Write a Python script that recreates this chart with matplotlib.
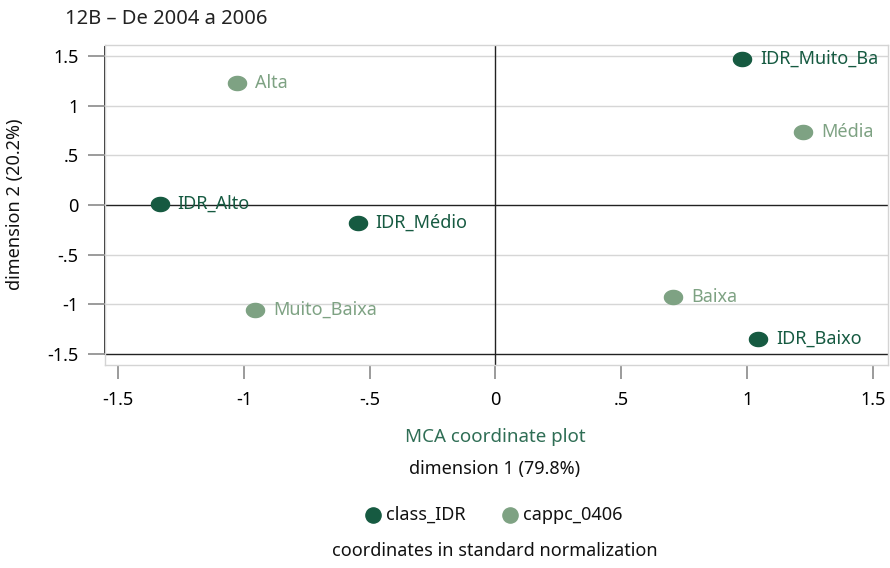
import numpy as np
import matplotlib
matplotlib.use("Agg")
import matplotlib.pyplot as plt
from matplotlib.path import Path

plt.rcParams['font.family'] = ['Noto Sans', 'DejaVu Sans']

# MCA coordinates
idr_labels = ["IDR_Muito_Ba", "IDR_Alto", "IDR_Médio", "IDR_Baixo"]
idr_x = [0.98, -1.335, -0.548, 1.045]
idr_y = [1.475, 0.01, -0.18, -1.354]

cap_labels = ["Alta", "Média", "Muito_Baixa", "Baixa"]
cap_x = [-1.029, 1.224, -0.957, 0.707]
cap_y = [1.232, 0.737, -1.06, -0.93]

ticks = [-1.5, -1, -0.5, 0, 0.5, 1, 1.5]
tick_labels = ["-1.5", "-1", "-.5", "0", ".5", "1", "1.5"]

dark = "#165a41"
light = "#7ea283"
fs = 13

# slightly wide ellipse as marker
t = np.linspace(0, 2 * np.pi, 60)
ellipse = Path(np.column_stack([np.cos(t), 0.78 * np.sin(t)]), closed=True)

fig = plt.figure(figsize=(8.9, 5.68), dpi=100)
ax = fig.add_axes([105 / 890, 1 - 365 / 568, 783 / 890, 320 / 568])
ax.set_xlim(-1.552, 1.56)
ax.set_ylim(-1.615, 1.615)

for s in ax.spines.values():
    s.set_color("#d4d4d4")
    s.set_linewidth(1)

for v in [-1, -0.5, 0.5, 1, 1.5]:
    ax.axhline(v, color="#d6d6d6", lw=1, zorder=0)
ax.axhline(0, color="#222222", lw=1, zorder=1)
ax.axvline(0, color="#222222", lw=1, zorder=1)
ax.axhline(-1.5, color="#222222", lw=1, zorder=1)
ax.plot([-1.552, -1.552], [-1.5, 1.59], color="#222222", lw=1.4, zorder=1, clip_on=False)

ax.scatter(idr_x, idr_y, s=170, marker=ellipse, color=dark, zorder=3)
ax.scatter(cap_x, cap_y, s=170, marker=ellipse, color=light, zorder=3)
for lab, x, y in zip(idr_labels, idr_x, idr_y):
    ax.annotate(lab, (x, y), xytext=(13, 0), textcoords="offset points",
                va="center", ha="left", color=dark, fontsize=fs)
for lab, x, y in zip(cap_labels, cap_x, cap_y):
    ax.annotate(lab, (x, y), xytext=(13, 0), textcoords="offset points",
                va="center", ha="left", color=light, fontsize=fs)
for txt in ax.texts:
    txt.set_clip_on(True)

ax.set_xticks(ticks)
ax.set_xticklabels(tick_labels)
ax.set_yticks(ticks)
ax.set_yticklabels(tick_labels)
ax.tick_params(axis="x", length=10, color="#8a8a8a", width=1.2, labelsize=fs, pad=9)
ax.tick_params(axis="y", length=12, color="#8a8a8a", width=1.2, labelsize=fs, pad=7)

fig.text(15 / 890, 1 - 204 / 568, "dimension 2 (20.2%)", rotation=90, ha="center",
         va="center", fontsize=fs, color="#111111")
fig.text(65 / 890, 1 - 19 / 568, "12B – De 2004 a 2006", ha="left", va="center",
         fontsize=14.5, color="#222222")
fig.text(495 / 890, 1 - 437 / 568, "MCA coordinate plot", ha="center", va="center",
         fontsize=13.5, color="#2f6e55")
fig.text(495 / 890, 1 - 469 / 568, "dimension 1 (79.8%)", ha="center", va="center",
         fontsize=fs, color="#111111")
fig.text(495 / 890, 1 - 551 / 568, "coordinates in standard normalization", ha="center",
         va="center", fontsize=fs, color="#111111")

# legend row
lax = fig.add_axes([0, 0, 1, 1], facecolor="none")
lax.set_xlim(0, 890)
lax.set_ylim(568, 0)
lax.axis("off")
lax.scatter([373], [515], s=120, color=dark)
lax.scatter([510], [515], s=120, color=light)
lax.text(386, 515, "class_IDR", va="center", ha="left", fontsize=fs, color="#111111")
lax.text(523, 515, "cappc_0406", va="center", ha="left", fontsize=fs, color="#111111")

fig.savefig("out.png", dpi=100)
